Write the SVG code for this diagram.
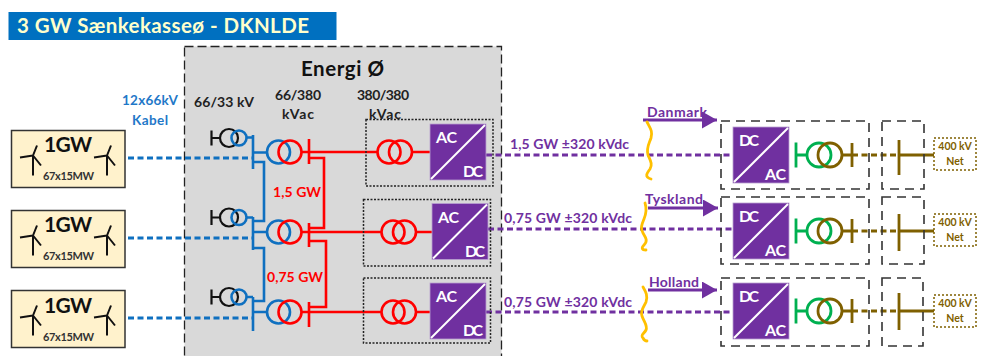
<svg xmlns="http://www.w3.org/2000/svg" width="982" height="356" viewBox="0 0 982 356">
<style>
text{font-family:Lato,"Liberation Sans",sans-serif;font-weight:700}
.blue{stroke:#0f70c0;stroke-width:2.6;fill:none}
.red{stroke:#ff0000;stroke-width:2.6;fill:none}
.blk{stroke:#111;stroke-width:2.2;fill:none}
.grn{stroke:#00b050;stroke-width:2.8;fill:none}
.brn{stroke:#7f6000;stroke-width:2.8;fill:none}
.bd{stroke:#0f70c0;stroke-width:3;stroke-dasharray:6 3.500;fill:none}
.pd{stroke:#7030a0;stroke-width:3;stroke-dasharray:6 3.500;fill:none}
.brd{stroke:#7f6000;stroke-width:3;stroke-dasharray:6 3.500;fill:none}
.org{stroke:#ffc000;stroke-width:2.8;fill:none;stroke-linecap:round}
.pa{stroke:#7030a0;stroke-width:3;fill:none}
.dot{fill:none;stroke:#222;stroke-width:1.500;stroke-dasharray:2 1.500}
.dash{fill:none;stroke:#333;stroke-width:1.600;stroke-dasharray:9 6}
.wb{fill:#fff2cc;stroke:#333;stroke-width:1.500}
.cv{fill:#7030a0;stroke:#b9a0d0;stroke-width:.8}
.dg{stroke:#fff;stroke-width:2}
.cvt{fill:#fff;font-size:16px}
.gw{fill:#111;font-size:21px}
.mw{fill:#333;font-size:11px}
.lb{fill:#222;font-size:14px}
.rl{fill:#ff0000;font-size:14px}
.bl{fill:#1f78c8;font-size:13.500px}
.pl{fill:#7030a0;font-size:14px}
.net{fill:#7f6000;font-size:10.500px;text-anchor:middle}
.nb{fill:#fff;stroke:#7f6000;stroke-width:1.500;stroke-dasharray:2 2}
.tb{stroke:#111;stroke-width:2;fill:none}
</style>
<defs>
<marker id="ah" markerUnits="userSpaceOnUse" markerWidth="16" markerHeight="18" refX="15" refY="8.500" orient="auto"><polygon points="0,0 15,8.500 0,17" fill="#7030a0"/></marker>
<g id="tur"><path class="tb" d="M0 0V20M0 0L-13 2M0 0L4 -10M0 0L8 10"/></g>
<g id="wind"><rect class="wb" width="113.500" height="57"/><use href="#tur" x="21.500" y="25"/><use href="#tur" x="95.500" y="25"/></g>
<g id="aux"><path class="blk" d="M0 -7.500V7.500M0 0H8"/><circle class="blk" cx="17.500" r="9"/><circle class="blue" cx="27.500" r="7.500"/></g>
<g id="main"><circle class="blue" cx="11.500" r="11.500"/><circle class="red" cx="23" r="11.500"/></g>
<g id="rt"><circle class="red" cx="11.500" r="11.500"/><circle class="red" cx="23" r="11.500"/></g>
<g id="gt"><path class="grn" d="M0 -12.500V12.500M0 0H11"/><circle class="grn" cx="23" r="12"/><path class="brn" d="M46 0H56M56 -12V12"/><circle class="brn" cx="34" r="12"/></g>
</defs>

<g id="title"><rect x="8.500" y="12" width="328" height="28" fill="#0070c0"/><text x="17" y="33" font-size="20.500" fill="#ffffcc" textLength="292">3 GW Sænkekasseø - DKNLDE</text></g>

<g id="energi-o">
<rect x="184.500" y="46.500" width="317" height="312" fill="#d9d9d9" stroke="#222" stroke-width="1.300" stroke-dasharray="9 4"/>
<text x="301" y="76" font-size="20.500" fill="#111" textLength="83">Energi Ø</text>
</g>

<g id="wind-1"><use href="#wind" x="11.500" y="130.500"/><text class="gw" x="44" y="152" textLength="48">1GW</text><text class="mw" x="43" y="180" textLength="51">67x15MW</text></g>
<g id="wind-2"><use href="#wind" x="11.500" y="210.500"/><text class="gw" x="44" y="232" textLength="48">1GW</text><text class="mw" x="43" y="260" textLength="51">67x15MW</text></g>
<g id="wind-3"><use href="#wind" x="11.500" y="290.500"/><text class="gw" x="44" y="313" textLength="48">1GW</text><text class="mw" x="43" y="341" textLength="51">67x15MW</text></g>

<g id="connectors">
<path class="bd" d="M128 158H252M128 238H252M128 318H252"/>
<path class="blue" d="M253 135V169M247 137.500H253M253 152.500H267M253 162H264V221H253M253 217V250M247 217.500H253M253 232H267M253 248H264V301H253M253 297V331M247 297H253M253 312H267"/>
<path class="red" d="M309 139V164M302 152H377M309 158H324V228H309M309 223V247M302 232H381M309 241H326V307H309M309 302V327M302 312H381M411 152H430M416 232H432M416 312H430"/>
<path class="pd" d="M486 155H733M488 229H733M486 312H733"/>
<path class="brd" d="M852 155H899M852 231H899M852 311H899"/>
<path class="brn" d="M899 140V175M899 155H934M899 214V251M899 231H934M899 293V330M899 311H934"/>
<path class="pa" marker-end="url(#ah)" d="M643 120H717"/>
<path class="pa" marker-end="url(#ah)" d="M648 208H718"/>
<path class="pa" marker-end="url(#ah)" d="M648 290H717"/>
<path class="org" d="M647 122C650 128 653 131 651 138C649 144 646 148 648 155C650 160 653 164 650 169C647 173 644 177 651 179"/>
<path class="org" d="M645 203C647 209 646 214 644 219C642 224 640 228 643 233C646 238 648 241 644 245C641 248 642 250 646 250"/>
<path class="org" d="M643 287C646 292 648 296 646 302C644 307 640 310 642 316C644 322 648 326 646 330C644 334 640 335 643 338C644 340 646 341 647 341"/>
</g>

<g id="aux-1"><use href="#aux" x="211.500" y="138"/></g>
<g id="aux-2"><use href="#aux" x="211.500" y="217.500"/></g>
<g id="aux-3"><use href="#aux" x="211.500" y="297"/></g>
<g id="tr-1"><use href="#main" x="267" y="152"/></g>
<g id="tr-2"><use href="#main" x="267" y="232"/></g>
<g id="tr-3"><use href="#main" x="267" y="312"/></g>

<g id="station-1"><rect class="dot" x="366" y="119.500" width="127" height="66.500"/><use href="#rt" x="377.500" y="152"/>
<rect class="cv" x="430" y="124" width="56" height="56"/><line class="dg" x1="431" y1="179" x2="485" y2="125"/><text class="cvt" x="436" y="143" textLength="21">AC</text><text class="cvt" x="463" y="177" textLength="20">DC</text></g>
<g id="station-2"><rect class="dot" x="363.500" y="199.500" width="127" height="66.500"/><use href="#rt" x="381.500" y="232"/>
<rect class="cv" x="432" y="203.500" width="56" height="56"/><line class="dg" x1="433" y1="258.500" x2="487" y2="204.500"/><text class="cvt" x="438" y="222.500" textLength="21">AC</text><text class="cvt" x="465" y="256.500" textLength="20">DC</text></g>
<g id="station-3"><rect class="dot" x="363.500" y="278" width="127" height="65"/><use href="#rt" x="381.500" y="312"/>
<rect class="cv" x="430" y="283" width="56" height="56"/><line class="dg" x1="431" y1="338" x2="485" y2="284"/><text class="cvt" x="436" y="302" textLength="21">AC</text><text class="cvt" x="463" y="336" textLength="20">DC</text></g>

<g id="dk-converter"><rect class="dash" x="721" y="121" width="148" height="68"/><rect class="cv" x="733" y="127" width="56" height="56"/><line class="dg" x1="734" y1="182" x2="788" y2="128"/><text class="cvt" x="739" y="146" textLength="20">DC</text><text class="cvt" x="765" y="180" textLength="21">AC</text><use href="#gt" x="796" y="155"/></g>
<g id="de-converter"><rect class="dash" x="721" y="197" width="148" height="67"/><rect class="cv" x="733" y="203" width="56" height="56"/><line class="dg" x1="734" y1="258" x2="788" y2="204"/><text class="cvt" x="739" y="222" textLength="20">DC</text><text class="cvt" x="765" y="256" textLength="21">AC</text><use href="#gt" x="796" y="231"/></g>
<g id="nl-converter"><rect class="dash" x="721" y="278" width="148" height="68"/><rect class="cv" x="733" y="283" width="56" height="56"/><line class="dg" x1="734" y1="338" x2="788" y2="284"/><text class="cvt" x="739" y="302" textLength="20">DC</text><text class="cvt" x="765" y="336" textLength="21">AC</text><use href="#gt" x="796" y="311"/></g>

<g id="dk-bus"><rect class="dash" x="882" y="121" width="42" height="68"/></g>
<g id="de-bus"><rect class="dash" x="882" y="197" width="42" height="67"/></g>
<g id="nl-bus"><rect class="dash" x="882" y="278" width="41" height="68"/></g>

<g id="net-dk"><rect class="nb" x="934" y="138" width="42" height="32"/><text class="net" x="955" y="150">400 kV</text><text class="net" x="955" y="165">Net</text></g>
<g id="net-de"><rect class="nb" x="934" y="214" width="42" height="32"/><text class="net" x="955" y="226">400 kV</text><text class="net" x="955" y="241">Net</text></g>
<g id="net-nl"><rect class="nb" x="934" y="295" width="42" height="32"/><text class="net" x="955" y="307">400 kV</text><text class="net" x="955" y="322">Net</text></g>

<g id="labels">
<text class="bl" x="122" y="105" textLength="56">12x66kV</text>
<text class="bl" x="132" y="125" textLength="36">Kabel</text>
<text class="lb" x="194" y="107" textLength="60">66/33 kV</text>
<text class="lb" x="275" y="100" textLength="46">66/380</text>
<text class="lb" x="282" y="119" textLength="32">kVac</text>
<text class="lb" x="357" y="100" textLength="52">380/380</text>
<text class="lb" x="369" y="119" textLength="32">kVac</text>
<text class="rl" x="273" y="197" textLength="48">1,5 GW</text>
<text class="rl" x="267" y="282" textLength="56">0,75 GW</text>
<text class="pl" x="510" y="149" textLength="119">1,5 GW ±320 kVdc</text>
<text class="pl" x="504" y="223" textLength="128">0,75 GW ±320 kVdc</text>
<text class="pl" x="504" y="307" textLength="128">0,75 GW ±320 kVdc</text>
<text class="pl" x="647" y="117" textLength="60">Danmark</text>
<text class="pl" x="645" y="204" textLength="58">Tyskland</text>
<text class="pl" x="649" y="287" textLength="50">Holland</text>
</g>
</svg>
